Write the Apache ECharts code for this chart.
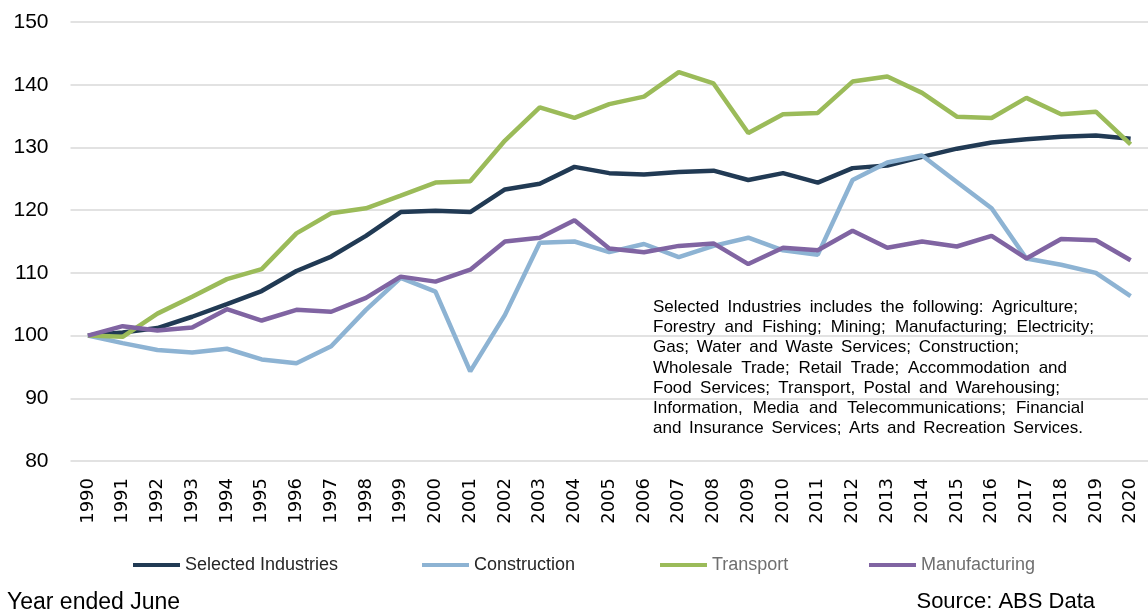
<!DOCTYPE html>
<html>
<head>
<meta charset="utf-8">
<script src="https://cdn.jsdelivr.net/npm/echarts@6/dist/echarts.min.js"></script>
<style>
  html, body { margin: 0; padding: 0; background: #fff; }
  #chart { width: 1148px; height: 615px; }
</style>
</head>
<body>
<div id="chart"></div>
<script>
// year ended June
const years = ['1990','1991','1992','1993','1994','1995','1996','1997','1998','1999',
  '2000','2001','2002','2003','2004','2005','2006','2007','2008','2009',
  '2010','2011','2012','2013','2014','2015','2016','2017','2018','2019','2020'];

const selectedIndustries = [100, 100.5, 101.2, 103.0, 105.0, 107.1, 110.3, 112.6, 115.9, 119.7,
  119.9, 119.7, 123.3, 124.2, 126.9, 125.9, 125.7, 126.1, 126.3, 124.8,
  125.9, 124.4, 126.7, 127.1, 128.5, 129.8, 130.8, 131.3, 131.7, 131.9, 131.4];

const construction = [100, 98.8, 97.7, 97.3, 97.9, 96.2, 95.6, 98.3, 104.1, 109.2,
  107.0, 94.3, 103.3, 114.8, 115.0, 113.3, 114.6, 112.5, 114.3, 115.6,
  113.6, 112.9, 124.8, 127.6, 128.7, 124.5, 120.3, 112.3, 111.3, 110.0, 106.3];

const transport = [100, 99.8, 103.5, 106.2, 109.0, 110.6, 116.3, 119.5, 120.3, 122.3,
  124.4, 124.6, 131.1, 136.4, 134.7, 136.9, 138.1, 142.0, 140.2, 132.3,
  135.3, 135.5, 140.5, 141.3, 138.7, 134.9, 134.7, 137.9, 135.3, 135.7, 130.5];

const manufacturing = [100, 101.5, 100.8, 101.3, 104.2, 102.4, 104.1, 103.8, 106.0, 109.4,
  108.6, 110.5, 115.0, 115.6, 118.4, 113.9, 113.3, 114.3, 114.7, 111.4,
  114.0, 113.6, 116.7, 114.0, 115.0, 114.2, 115.9, 112.3, 115.4, 115.2, 112.0];

const noteLines = [
  'Selected Industries includes the following: Agriculture;',
  'Forestry and Fishing; Mining; Manufacturing; Electricity;',
  'Gas; Water and Waste Services; Construction;',
  'Wholesale Trade; Retail Trade; Accommodation and',
  'Food Services; Transport, Postal and Warehousing;',
  'Information, Media and Telecommunications; Financial',
  'and Insurance Services; Arts and Recreation Services.'
];
// justified width of each note line
const noteWidths = [425, 441, 366, 414, 407, 431, 430];

const colors = {
  selected: '#213a54',
  construction: '#8db3d3',
  transport: '#9bbb59',
  manufacturing: '#8064a2'
};

const noteFont = '17px "Liberation Sans"';

// lay out the note text as justified lines, word by word
function noteGraphics() {
  const ctx = document.createElement('canvas').getContext('2d');
  ctx.font = noteFont;
  const out = [];
  noteLines.forEach(function (line, i) {
    const words = line.split(' ');
    const widths = words.map(function (w) { return ctx.measureText(w).width; });
    const total = widths.reduce(function (a, b) { return a + b; }, 0);
    const gap = (noteWidths[i] - total) / (words.length - 1);
    let x = 653;
    words.forEach(function (w, j) {
      out.push({
        type: 'text',
        x: x,
        y: 307 + i * 20.3,
        style: { text: w, font: noteFont, fill: '#000', textVerticalAlign: 'middle' }
      });
      x += widths[j] + gap;
    });
  });
  return out;
}

const chart = echarts.init(document.getElementById('chart'));

function legendAt(left, name, textColor) {
  return {
    left: left,
    top: 556,
    padding: 0,
    itemWidth: 47,
    itemHeight: 4,
    itemGap: 0,
    icon: 'rect',
    data: [name],
    textStyle: {
      fontFamily: 'Liberation Sans',
      fontSize: 18,
      color: textColor
    }
  };
}

function lineSeries(name, data, color) {
  return {
    name: name,
    type: 'line',
    data: data,
    symbol: 'none',
    lineStyle: { width: 4.5, color: color },
    itemStyle: { color: color },
    animation: false
  };
}

chart.setOption({
  animation: false,
  grid: {
    left: 70.5,
    right: -9.5,
    top: 22,
    bottom: 154
  },
  legend: [
    legendAt(133, 'Selected Industries', '#262626'),
    legendAt(422, 'Construction', '#262626'),
    legendAt(660, 'Transport', '#6f6f6f'),
    legendAt(869, 'Manufacturing', '#6f6f6f')
  ],
  xAxis: {
    type: 'category',
    data: years,
    boundaryGap: true,
    axisLine: { show: false },
    axisTick: { show: false },
    axisLabel: {
      rotate: 90,
      interval: 0,
      margin: 17,
      fontFamily: 'DejaVu Sans',
      fontSize: 18,
      color: '#000'
    }
  },
  yAxis: {
    type: 'value',
    min: 80,
    max: 150,
    interval: 10,
    axisLine: { show: false },
    axisTick: { show: false },
    axisLabel: {
      margin: 22,
      fontFamily: 'Liberation Sans',
      fontSize: 21,
      color: '#000'
    },
    splitLine: { lineStyle: { color: '#d9d9d9', width: 1.5 } }
  },
  graphic: noteGraphics().concat([
    {
      type: 'text',
      left: 7,
      top: 591,
      style: { text: 'Year ended June', font: '23px "Liberation Sans"', fill: '#000' }
    },
    {
      type: 'text',
      right: 53,
      top: 591,
      style: { text: 'Source: ABS Data', font: '22px "Liberation Sans"', fill: '#000' }
    }
  ]),
  series: [
    lineSeries('Selected Industries', selectedIndustries, colors.selected),
    lineSeries('Construction', construction, colors.construction),
    lineSeries('Transport', transport, colors.transport),
    lineSeries('Manufacturing', manufacturing, colors.manufacturing)
  ]
});
</script>
</body>
</html>
